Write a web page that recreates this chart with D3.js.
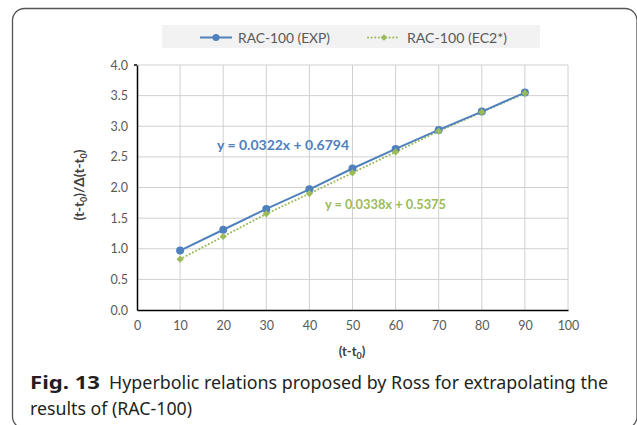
<!DOCTYPE html>
<html><head><meta charset="utf-8">
<script src="https://cdn.jsdelivr.net/npm/d3@7"></script>
<style>
html,body{margin:0;padding:0;background:#fff;}
svg{display:block;}
</style></head>
<body>
<svg id="c" width="637" height="425"></svg>
<script>
const xValues = [10, 20, 30, 40, 50, 60, 70, 80, 90];
const expValues = [0.97, 1.31, 1.65, 1.97, 2.31, 2.63, 2.94, 3.24, 3.55];
const ec2Values = [0.83, 1.20, 1.57, 1.90, 2.24, 2.58, 2.92, 3.23, 3.54];
const seriesNames = ["RAC-100 (EXP)", "RAC-100 (EC2*)"];
const trendLabels = ["y = 0.0322x + 0.6794", "y = 0.0338x  + 0.5375"];
const xTicks = [0, 10, 20, 30, 40, 50, 60, 70, 80, 90, 100];
const yTicks = [0, 0.5, 1, 1.5, 2, 2.5, 3, 3.5, 4];
const captionBold = "Fig. 13";
const captionLine1 = "Hyperbolic relations proposed by Ross for extrapolating the";
const captionLine2 = "results of (RAC-100)";

const blue = "#4f81bd", green = "#9bbb59";
const font = "Lato, 'Noto Sans', sans-serif";
const capFont = "'Noto Sans', 'Open Sans', sans-serif";

const svg = d3.select("#c");
svg.append("rect").attr("x", 12.5).attr("y", 8.5).attr("width", 624.5).attr("height", 420)
  .attr("rx", 12).attr("fill", "none").attr("stroke", "#555").attr("stroke-width", 1.3);

const x = d3.scaleLinear().domain([0, 100]).range([137, 568]);
const y = d3.scaleLinear().domain([0, 4]).range([310, 65]);

// grid
const g = svg.append("g");
g.selectAll("line.vg").data(xTicks.slice(1)).join("line")
  .attr("x1", d => x(d)).attr("x2", d => x(d)).attr("y1", y(4)).attr("y2", y(0))
  .attr("stroke", "#d0d0d0").attr("stroke-width", 1);
g.selectAll("line.hg").data(yTicks.slice(1)).join("line")
  .attr("x1", x(0)).attr("x2", x(100)).attr("y1", d => y(d)).attr("y2", d => y(d))
  .attr("stroke", "#d0d0d0").attr("stroke-width", 1);

// axes
const yAxis = d3.axisLeft(y).tickValues(yTicks).tickFormat(d3.format(".1f")).tickSize(0).tickPadding(9);
const ya = svg.append("g").attr("transform", `translate(${x(0)},0)`).call(yAxis);
ya.select(".domain").attr("stroke", "#000").attr("stroke-width", 1.5);
ya.selectAll("text").attr("font-family", font).attr("font-size", 12.5).attr("fill", "#595959");
svg.append("line").attr("x1", x(0) - 3).attr("x2", x(0)).attr("y1", y(4)).attr("y2", y(4))
  .attr("stroke", "#000").attr("stroke-width", 1.5);

const xAxis = d3.axisBottom(x).tickValues(xTicks).tickSize(0).tickPadding(11);
const xa = svg.append("g").attr("transform", `translate(0,${y(0)})`).call(xAxis);
xa.select(".domain").attr("stroke", "#000").attr("stroke-width", 1.5);
xa.selectAll("text").attr("font-family", font).attr("font-size", 12.5).attr("fill", "#595959");

// axis titles
const yt = svg.append("text").attr("transform", `translate(84,185) rotate(-90)`)
  .attr("text-anchor", "middle").attr("font-family", font).attr("font-size", 13.5)
  .attr("font-weight", "bold").attr("fill", "#404040");
yt.append("tspan").text("(t-t");
yt.append("tspan").text("0").attr("font-size", 9).attr("dy", 3);
yt.append("tspan").text(")/Δ(t-t").attr("dy", -3);
yt.append("tspan").text("0").attr("font-size", 9).attr("dy", 3);
yt.append("tspan").text(")").attr("dy", -3);

const xt = svg.append("text").attr("x", 352).attr("y", 356)
  .attr("text-anchor", "middle").attr("font-family", font).attr("font-size", 13)
  .attr("font-weight", "bold").attr("fill", "#404040");
xt.append("tspan").text("(t-t");
xt.append("tspan").text("0").attr("font-size", 9).attr("dy", 3);
xt.append("tspan").text(")").attr("dy", -3);

// series
const lineGen = d3.line().x(d => x(d[0])).y(d => y(d[1]));
const ec2Data = xValues.map((v, i) => [v, ec2Values[i]]);
const expData = xValues.map((v, i) => [v, expValues[i]]);

svg.append("path").datum(ec2Data).attr("d", lineGen).attr("fill", "none")
  .attr("stroke", green).attr("stroke-width", 2).attr("stroke-dasharray", "0.1 3.5").attr("stroke-linecap", "round");
svg.append("path").datum(expData).attr("d", lineGen).attr("fill", "none")
  .attr("stroke", blue).attr("stroke-width", 2);

const diamondSym = d3.symbol().type(d3.symbolSquare).size(26);
svg.selectAll("circle.exp").data(expData).join("circle")
  .attr("cx", d => x(d[0])).attr("cy", d => y(d[1])).attr("r", 4).attr("fill", blue);
svg.selectAll("path.ec2").data(ec2Data).join("path")
  .attr("d", diamondSym)
  .attr("transform", d => `translate(${x(d[0])},${y(d[1])}) rotate(45)`).attr("fill", green);

// trend labels
svg.append("text").attr("x", 217).attr("y", 150).text(trendLabels[0])
  .attr("font-family", font).attr("font-size", 13.5).attr("font-weight", "bold").attr("fill", blue)
  .attr("textLength", 132).attr("lengthAdjust", "spacingAndGlyphs");
svg.append("text").attr("x", 325).attr("y", 209).text(trendLabels[1])
  .attr("font-family", font).attr("font-size", 13.5).attr("font-weight", "bold").attr("fill", green)
  .attr("textLength", 121).attr("lengthAdjust", "spacingAndGlyphs");

// legend
svg.append("rect").attr("x", 162).attr("y", 25).attr("width", 378).attr("height", 23).attr("fill", "#f2f2f2");
const ly = 37.5;
svg.append("line").attr("x1", 200).attr("x2", 232).attr("y1", ly).attr("y2", ly).attr("stroke", blue).attr("stroke-width", 2);
svg.append("circle").attr("cx", 216).attr("cy", ly).attr("r", 3.5).attr("fill", blue);
svg.append("text").attr("x", 238).attr("y", ly + 5).text(seriesNames[0])
  .attr("font-family", font).attr("font-size", 14).attr("fill", "#595959")
  .attr("textLength", 92).attr("lengthAdjust", "spacingAndGlyphs");
svg.append("line").attr("x1", 368).attr("x2", 400).attr("y1", ly).attr("y2", ly).attr("stroke", green)
  .attr("stroke-width", 2).attr("stroke-dasharray", "0.1 3.5").attr("stroke-linecap", "round");
svg.append("path").attr("d", d3.symbol().type(d3.symbolSquare).size(22)).attr("transform", `translate(384,${ly}) rotate(45)`).attr("fill", green);
svg.append("text").attr("x", 407).attr("y", ly + 5).text(seriesNames[1])
  .attr("font-family", font).attr("font-size", 14).attr("fill", "#595959")
  .attr("textLength", 100).attr("lengthAdjust", "spacingAndGlyphs");

// caption
svg.append("text").attr("x", 30).attr("y", 389).attr("font-family", capFont).attr("font-size", 18)
  .attr("font-weight", "bold").attr("fill", "#231f20").text(captionBold)
  .attr("textLength", 70).attr("lengthAdjust", "spacingAndGlyphs");
svg.append("text").attr("x", 109).attr("y", 389).attr("font-family", capFont).attr("font-size", 18.5)
  .attr("fill", "#231f20").text(captionLine1)
  .attr("textLength", 499).attr("lengthAdjust", "spacingAndGlyphs");
svg.append("text").attr("x", 30).attr("y", 415).attr("font-family", capFont).attr("font-size", 18.5)
  .attr("fill", "#231f20").text(captionLine2)
  .attr("textLength", 162).attr("lengthAdjust", "spacingAndGlyphs");
</script>
</body></html>
